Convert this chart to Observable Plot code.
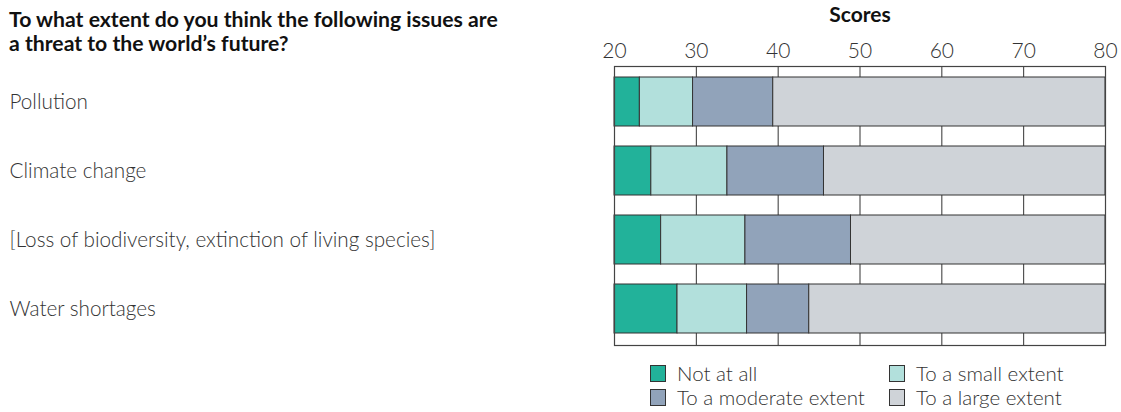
<!DOCTYPE html>
<html>
<head>
<meta charset="utf-8">
<script src="https://cdn.jsdelivr.net/npm/d3@7"></script>
<script src="https://cdn.jsdelivr.net/npm/@observablehq/plot@0.6"></script>
<style>
  html, body { margin: 0; padding: 0; background: #fff; }
  body { font-family: "Lato", "Open Sans", sans-serif; color: #222; }
  #wrap { position: relative; width: 1121px; height: 412px; }
  #title { position: absolute; left: 9px; top: 7px; font-weight: 700; font-size: 21.2px; line-height: 24px; color: #111; }
  .leg { position: absolute; display: flex; align-items: center; font-weight: 300; font-size: 20.5px; color: #333; white-space: nowrap; }
  .sw { width: 14px; height: 15px; border: 1px solid #333; margin-right: 11px; }
  #chart { position: absolute; left: 0; top: 0; }
</style>
</head>
<body>
<div id="wrap">
  <div id="chart"></div>
  <div id="title">To what extent do you think the following issues are<br>a threat to the world’s future?</div>
</div>
<script>
const categories = [
  "Pollution",
  "Climate change",
  "[Loss of biodiversity, extinction of living species]",
  "Water shortages"
];
const levels = ["Not at all", "To a small extent", "To a moderate extent", "To a large extent"];
const notAtAll = [3.1, 4.5, 5.7, 7.7];
const smallExtent = [6.5, 9.3, 10.3, 8.5];
const moderateExtent = [9.8, 11.8, 12.9, 7.6];
const largeExtent = [40.6, 34.4, 31.1, 36.2];
const baseline = 20;
const xTicks = [20, 30, 40, 50, 60, 70, 80];
const colors = ["#22b29a", "#b2e0dc", "#91a3ba", "#cfd3d8"];
const axisTitle = "Scores";

const series = [notAtAll, smallExtent, moderateExtent, largeExtent];
const rows = [];
categories.forEach((c, i) => {
  let start = baseline;
  series.forEach((s, j) => {
    rows.push({category: c, level: levels[j], x1: start, x2: start + s[i]});
    start += s[i];
  });
});

const chart = Plot.plot({
  width: 1121,
  height: 350,
  marginTop: 66,
  marginBottom: 5,
  marginLeft: 614,
  marginRight: 16,
  style: {fontFamily: "Lato, 'Open Sans', sans-serif", color: "#333", background: "transparent"},
  x: {domain: [20, 80]},
  y: {domain: categories, paddingInner: 0.2857, paddingOuter: 0.1429},
  color: {domain: levels, range: colors},
  marks: [
    Plot.ruleX(xTicks.slice(1, -1), {stroke: "#333", strokeWidth: 1}),
    Plot.barX(rows, {y: "category", x1: "x1", x2: "x2", fill: "level", stroke: "#333", strokeWidth: 1}),
    Plot.frame({stroke: "#444", strokeWidth: 1.2}),
    Plot.axisX({anchor: "top", ticks: xTicks, tickSize: 0, tickPadding: 9, fontSize: 21, fontWeight: 300, label: null, tickFormat: d => String(d)}),
    Plot.axisY({anchor: "left", tickSize: 0, tickPadding: 0, textAnchor: "start", dx: -605, fontSize: 20.7, fontWeight: 300, label: null}),
    Plot.text([axisTitle], {x: () => 50, frameAnchor: "top", dy: -51, lineAnchor: "middle", fontWeight: 700, fontSize: 21, fill: "#111"})
  ]
});
document.getElementById("chart").appendChild(chart);

const wrap = document.getElementById("wrap");
levels.forEach((lv, i) => {
  const col = i % 2, row = Math.floor(i / 2);
  const d = document.createElement("div");
  d.className = "leg";
  d.style.left = (col === 0 ? 650 : 889) + "px";
  d.style.top = (361 + row * 24) + "px";
  d.style.height = "24px";
  const sw = document.createElement("div");
  sw.className = "sw";
  sw.style.background = colors[i];
  const t = document.createElement("span");
  t.textContent = lv;
  d.appendChild(sw);
  d.appendChild(t);
  wrap.appendChild(d);
});
</script>
</body>
</html>
